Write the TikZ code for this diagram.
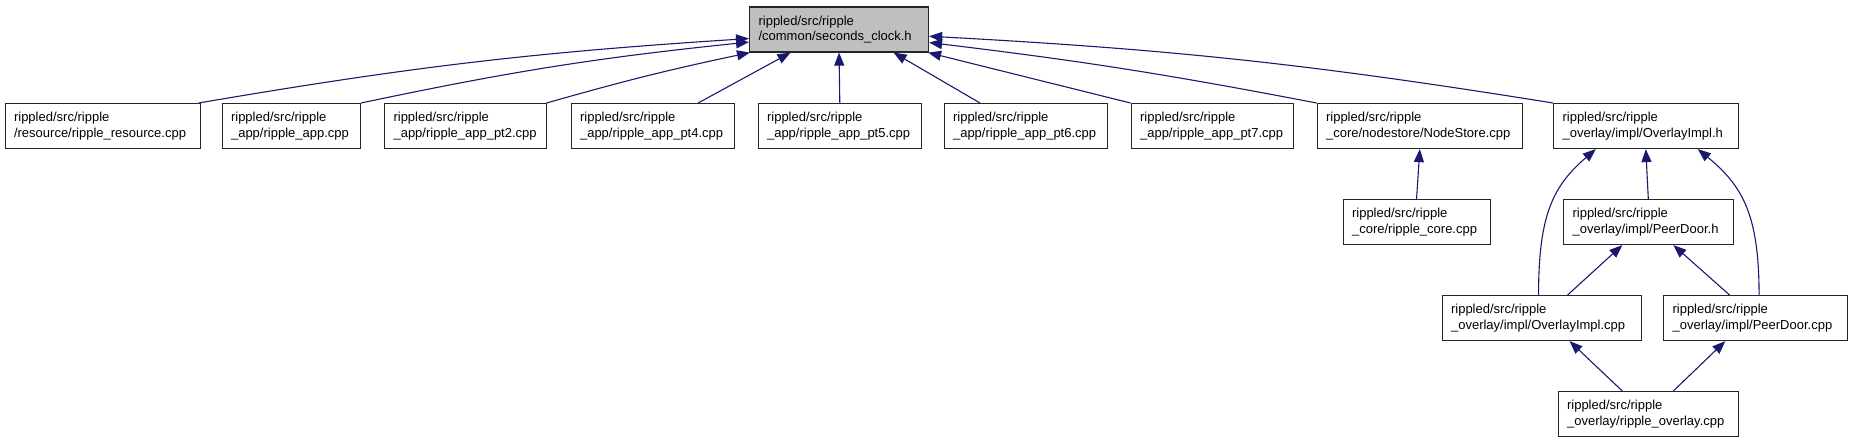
\documentclass[tikz,border=0pt]{standalone}
\usepackage{fontspec}
\setmainfont{Liberation Sans}
\usetikzlibrary{arrows.meta,calc}
\definecolor{edgeblue}{RGB}{25,25,112}
\definecolor{rootgray}{RGB}{191,191,191}
\hyphenpenalty=10000
\exhyphenpenalty=10000
\begin{document}
\begin{tikzpicture}[x=1pt,y=-1pt,
  box/.style={draw=black!85, line width=1.1pt, fill=white, anchor=north west,
    minimum height=45pt, inner xsep=9pt, inner ysep=0pt, align=left,
    font=\fontsize{13}{15.5}\selectfont},
  rootbox/.style={box, fill=rootgray},
  dep/.style={draw=edgeblue, line width=1.1pt, -{Triangle[length=13pt,width=10pt]}},
]
\useasboundingbox (0,0) rectangle (1851,443);

% root
\node[rootbox, text width=161pt] (root) at (749,6.5) {rippled/src/ripple\\/common/seconds\_clock.h};

% second row
\node[box, text width=177pt]   (b1) at (4.5,103)   {rippled/src/ripple\\/resource/ripple\_resource.cpp};
\node[box, text width=120.5pt] (b2) at (221.5,103) {rippled/src/ripple\\\_app/ripple\_app.cpp};
\node[box, text width=143.5pt] (b3) at (384,103)   {rippled/src/ripple\\\_app/ripple\_app\_pt2.cpp};
\node[box, text width=145pt]   (b4) at (570.5,103) {rippled/src/ripple\\\_app/ripple\_app\_pt4.cpp};
\node[box, text width=145.5pt] (b5) at (757.5,103) {rippled/src/ripple\\\_app/ripple\_app\_pt5.cpp};
\node[box, text width=145pt]   (b6) at (943.5,103) {rippled/src/ripple\\\_app/ripple\_app\_pt6.cpp};
\node[box, text width=144.5pt] (b7) at (1130.5,103){rippled/src/ripple\\\_app/ripple\_app\_pt7.cpp};
\node[box, text width=187.5pt] (b8) at (1316.5,103){rippled/src/ripple\\\_core/nodestore/NodeStore.cpp};
\node[box, text width=166.5pt] (b9) at (1553,103)  {rippled/src/ripple\\\_overlay/impl/OverlayImpl.h};

% third row
\node[box, text width=129pt]   (core)  at (1342.5,199) {rippled/src/ripple\\\_core/ripple\_core.cpp};
\node[box, text width=151.5pt] (peerh) at (1563,199)   {rippled/src/ripple\\\_overlay/impl/PeerDoor.h};

% fourth row
\node[box, text width=181pt]   (oimplcpp) at (1441.5,295) {rippled/src/ripple\\\_overlay/impl/OverlayImpl.cpp};
\node[box, text width=165.5pt] (peercpp)  at (1663,295)   {rippled/src/ripple\\\_overlay/impl/PeerDoor.cpp};

% fifth row
\node[box, text width=162.5pt] (rovl) at (1557.5,391) {rippled/src/ripple\\\_overlay/ripple\_overlay.cpp};

% edges to root
\draw[dep] ($(b1.north east)+(-2,0)$) to[bend left=3] ($(root.west)+(0,9)$);
\draw[dep] (b2.north east) to[bend left=3] ($(root.west)+(0,12.5)$);
\draw[dep] (b3.north east) to[bend left=2] ($(root.south west)+(1,0)$);
\draw[dep] ($(b4.north east)+(-36.5,0)$) -- ($(root.south)+(-48.5,0)$);
\draw[dep] (b5.north) -- (root.south);
\draw[dep] ($(b6.north west)+(36.5,0)$) -- ($(root.south)+(54.5,0)$);
\draw[dep] (b7.north west) -- ($(root.south east)+(-1,0)$);
\draw[dep] (b8.north west) to[bend right=2] ($(root.east)+(0,13)$);
\draw[dep] (b9.north west) to[bend right=3] ($(root.east)+(0,6.7)$);

% lower edges
\draw[dep] (core.north) -- (b8.south);
\draw[dep] (peerh.north) -- (b9.south);
\draw[dep] ($(oimplcpp.north)+(-3,0)$) .. controls +(0,-80) and +(-43,37) .. ($(b9.south)+(-50,0)$);
\draw[dep] ($(peercpp.north)+(3.75,0)$) .. controls +(0,-80) and +(45,37) .. ($(b9.south)+(52,0)$);
\draw[dep] ($(oimplcpp.north)+(26,0)$) -- ($(peerh.south)+(-26,0)$);
\draw[dep] ($(peercpp.north)+(-25.75,0)$) -- ($(peerh.south)+(25,0)$);
\draw[dep] ($(rovl.north)+(-26,0)$) -- ($(oimplcpp.south)+(28,0)$);
\draw[dep] ($(rovl.north)+(25,0)$) -- ($(peercpp.south)+(-30,0)$);
\end{tikzpicture}
\end{document}
